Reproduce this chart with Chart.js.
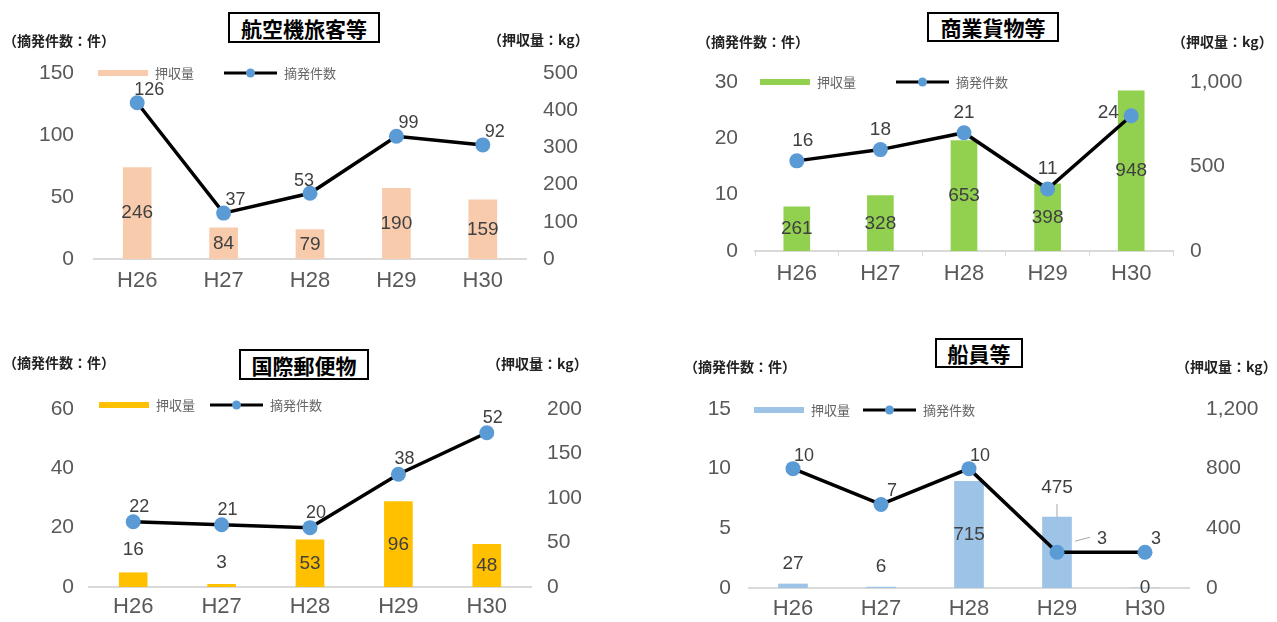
<!DOCTYPE html>
<html>
<head>
<meta charset="utf-8">
<script src="https://cdn.jsdelivr.net/npm/chart.js@4.4.1/dist/chart.umd.min.js"></script>
<style>
  body { margin: 0; background: #fff; width: 1277px; height: 622px; position: relative; overflow: hidden; font-family: 'Noto Sans CJK JP', sans-serif; }
  canvas { position: absolute; }
  .ttl { position: absolute; border: 2px solid #000; box-sizing: border-box; display: flex; align-items: center; justify-content: center; font-weight: bold; font-size: 21px; color: #000; background: #fff; }
  .unit { position: absolute; font-size: 14px; font-weight: bold; line-height: 16px; color: #222; white-space: nowrap; transform: translateY(-50%); }
</style>
</head>
<body>
<canvas id="c1" width="640" height="277" style="left:0;top:33px"></canvas>
<canvas id="c2" width="637" height="268" style="left:640px;top:42px"></canvas>
<canvas id="c3" width="640" height="253" style="left:0;top:369px"></canvas>
<canvas id="c4" width="637" height="253" style="left:640px;top:369px"></canvas>

<div class="ttl" style="left:228px;top:12px;width:152px;height:31px">航空機旅客等</div>
<div class="ttl" style="left:927px;top:12px;width:132px;height:30px">商業貨物等</div>
<div class="ttl" style="left:239px;top:349px;width:130px;height:31px">国際郵便物</div>
<div class="ttl" style="left:935px;top:338px;width:88px;height:30px">船員等</div>

<div class="unit" style="left:3px;top:40px">（摘発件数：件）</div>
<div class="unit" style="left:488px;top:39px">（押収量：kg）</div>
<div class="unit" style="left:697px;top:41px">（摘発件数：件）</div>
<div class="unit" style="left:1172px;top:41px">（押収量：kg）</div>
<div class="unit" style="left:3px;top:362px">（摘発件数：件）</div>
<div class="unit" style="left:487px;top:363px">（押収量：kg）</div>
<div class="unit" style="left:684px;top:366px">（摘発件数：件）</div>
<div class="unit" style="left:1176px;top:366px">（押収量：kg）</div>

<script>
// data
const years = ['H26', 'H27', 'H28', 'H29', 'H30'];

const airCases = [126, 37, 53, 99, 92];
const airKg = [246, 84, 79, 190, 159];

const cargoCases = [16, 18, 21, 11, 24];
const cargoKg = [261, 328, 653, 398, 948];

const postCases = [22, 21, 20, 38, 52];
const postKg = [16, 3, 53, 96, 48];

const crewCases = [10, 7, 10, 3, 3];
const crewKg = [27, 6, 715, 475, 0];

const NUM = "'Liberation Sans', Arial, sans-serif";
const JP = "'Noto Sans CJK JP', sans-serif";

// numbers next to bars and points
const valueLabels = {
  id: 'valueLabels',
  afterDatasetsDraw(chart) {
    const o = chart.options.plugins.valueLabels;
    const ctx = chart.ctx;
    ctx.save();
    ctx.textAlign = 'center';
    ctx.textBaseline = 'middle';
    ctx.fillStyle = '#404040';
    chart.data.datasets.forEach((ds, di) => {
      const meta = chart.getDatasetMeta(di);
      meta.data.forEach((el, i) => {
        let x, y;
        if (ds.type === 'bar') {
          ctx.font = o.barFont;
          const up = o.barAbove[i];
          x = el.x;
          y = up == null ? (el.y + el.base) / 2 : el.y - up;
        } else {
          ctx.font = o.lineFont;
          const off = (o.lineShift && o.lineShift[i]) || o.lineOffset;
          x = el.x + off[0];
          y = el.y + off[1];
        }
        ctx.fillText(String(ds.data[i]), x, y);
      });
    });
    // leader lines
    ctx.strokeStyle = '#a6a6a6';
    ctx.lineWidth = 1;
    (o.leaders || []).forEach(l => {
      const di = chart.data.datasets.findIndex(d => d.type === l.type);
      const el = chart.getDatasetMeta(di).data[l.index];
      ctx.beginPath();
      ctx.moveTo(el.x + l.from[0], el.y + l.from[1]);
      ctx.lineTo(el.x + l.to[0], el.y + l.to[1]);
      ctx.stroke();
    });
    ctx.restore();
  }
};

// legend inside plot, at the top tick level
const sideLegend = {
  id: 'sideLegend',
  afterDraw(chart) {
    const o = chart.options.plugins.sideLegend;
    const ctx = chart.ctx, a = chart.chartArea;
    const bar = chart.data.datasets.find(d => d.type === 'bar');
    const line = chart.data.datasets.find(d => d.type === 'line');
    const y = a.top + o.dy;
    let x = a.left + o.dx;
    ctx.save();
    ctx.fillStyle = bar.backgroundColor;
    ctx.fillRect(x, y - 3, 50, 6);
    x += 57;
    ctx.font = '13px ' + JP;
    ctx.fillStyle = '#666';
    ctx.textBaseline = 'middle';
    ctx.textAlign = 'left';
    ctx.fillText(bar.label, x, y);
    x += ctx.measureText(bar.label).width + o.gap;
    ctx.strokeStyle = '#000';
    ctx.lineWidth = 3;
    ctx.beginPath();
    ctx.moveTo(x, y);
    ctx.lineTo(x + 53, y);
    ctx.stroke();
    ctx.fillStyle = line.pointBackgroundColor;
    ctx.beginPath();
    ctx.arc(x + 26.5, y, 4.5, 0, Math.PI * 2);
    ctx.fill();
    x += 60;
    ctx.fillStyle = '#666';
    ctx.fillText(line.label, x, y);
    ctx.restore();
  }
};

function makeChart(id, c) {
  const w = document.getElementById(id).width;
  const h = document.getElementById(id).height;
  return new Chart(document.getElementById(id), {
    type: 'bar',
    data: {
      labels: years,
      datasets: [
        {
          type: 'line', label: '摘発件数', data: c.cases, yAxisID: 'y', order: 0,
          borderColor: '#000', borderWidth: 3.5, tension: 0,
          pointRadius: 7.5, pointBackgroundColor: '#5b9bd5', pointBorderWidth: 0
        },
        {
          type: 'bar', label: '押収量', data: c.kg, yAxisID: 'y1', order: 1,
          backgroundColor: c.color, barThickness: c.barW
        }
      ]
    },
    options: {
      responsive: false,
      animation: false,
      devicePixelRatio: 1,
      layout: { padding: { top: c.area.t, left: 0, right: 0, bottom: 0 } },
      plugins: {
        legend: { display: false },
        tooltip: { enabled: false },
        valueLabels: c.labels,
        sideLegend: c.legend
      },
      scales: {
        x: {
          offset: true,
          grid: { display: !!c.xTicks, drawOnChartArea: false, drawTicks: !!c.xTicks, tickLength: 5, color: '#d9d9d9', offset: true },
          border: { display: true, color: '#d9d9d9', width: 2 },
          ticks: { color: '#595959', font: { family: NUM, size: 22 }, padding: c.pad.x },
          afterFit: s => { s.height = h - c.area.b; }
        },
        y: {
          position: 'left', min: 0, max: c.caseMax,
          grid: { display: false, drawTicks: false },
          border: { display: false },
          ticks: { stepSize: c.caseStep, color: '#595959', font: { family: NUM, size: 21 }, padding: c.pad.l },
          afterFit: s => { s.width = c.area.l; }
        },
        y1: {
          position: 'right', min: 0, max: c.kgMax,
          grid: { display: false, drawTicks: false },
          border: { display: false },
          ticks: {
            stepSize: c.kgStep, color: '#595959', font: { family: NUM, size: 21 }, padding: c.pad.r,
            callback: v => v.toLocaleString('en-US')
          },
          afterFit: s => { s.width = w - c.area.r; }
        }
      }
    },
    plugins: [valueLabels, sideLegend]
  });
}

makeChart('c1', {
  cases: airCases, kg: airKg, color: '#f8cbad', barW: 28,
  caseMax: 150, caseStep: 50, kgMax: 500, kgStep: 100,
  area: { l: 94, r: 526, t: 40, b: 226 },
  pad: { l: 20, r: 17, x: 9 },
  labels: {
    barFont: '19px ' + NUM, lineFont: '18px ' + NUM,
    barAbove: [null, null, null, null, null],
    lineOffset: [12, -13], lineShift: { 2: [-6, -12] }
  },
  legend: { dx: 4, dy: 0, gap: 30 }
});

makeChart('c2', {
  cases: cargoCases, kg: cargoKg, color: '#92d050', barW: 26, xTicks: true,
  caseMax: 30, caseStep: 10, kgMax: 1000, kgStep: 500,
  area: { l: 115, r: 533, t: 40, b: 209 },
  pad: { l: 17, r: 17, x: 5 },
  labels: {
    barFont: '19px ' + NUM, lineFont: '19px ' + NUM,
    barAbove: [null, null, null, null, null],
    lineOffset: [0, -20], lineShift: { 0: [6, -20], 4: [-23, -3] }
  },
  legend: { dx: 5, dy: 0, gap: 40 }
});

makeChart('c3', {
  cases: postCases, kg: postKg, color: '#ffc000', barW: 28,
  caseMax: 60, caseStep: 20, kgMax: 200, kgStep: 50,
  area: { l: 89, r: 531, t: 40, b: 218 },
  pad: { l: 15, r: 16, x: 7 },
  labels: {
    barFont: '19px ' + NUM, lineFont: '18px ' + NUM,
    barAbove: [23, 22, null, null, null],
    lineOffset: [6, -15]
  },
  legend: { dx: 10, dy: -4, gap: 15 }
});

makeChart('c4', {
  cases: crewCases, kg: crewKg, color: '#9dc3e6', barW: 29,
  caseMax: 15, caseStep: 5, kgMax: 1200, kgStep: 400,
  area: { l: 109, r: 549, t: 40, b: 219 },
  pad: { l: 18, r: 17, x: 8 },
  labels: {
    barFont: '19px ' + NUM, lineFont: '18px ' + NUM,
    barAbove: [20, 20, null, 29, null],
    lineOffset: [11, -13], lineShift: { 3: [45, -13] },
    leaders: [
      { type: 'bar', index: 3, from: [0, -13], to: [0, 0] },
      { type: 'line', index: 3, from: [18, -11], to: [33, -15] }
    ]
  },
  legend: { dx: 5, dy: 1, gap: 13 }
});
</script>
</body>
</html>
